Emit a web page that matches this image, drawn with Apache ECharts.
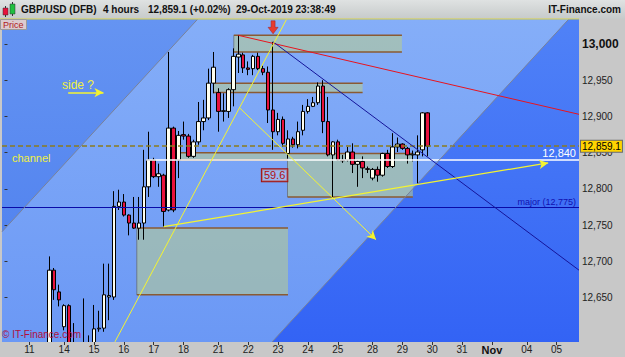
<!DOCTYPE html>
<html><head><meta charset="utf-8">
<script src="https://cdn.jsdelivr.net/npm/echarts@6/dist/echarts.min.js"></script>
<style>html,body{margin:0;padding:0;background:#c8c8c8;}#c{width:625px;height:357px;}</style>
</head><body><div id="c"></div>
<script>
// ---------------- data ----------------
const slotCount = 116;                       // 4-hour slots on the axis
const dayLabels   = ['11','14','15','16','17','18','21','22','23','24','25','28','29','30','31','Nov','04','05'];
const dayFirstSlot = [5,12,18,24,30,36,43,49,55,61,67,74,80,86,92,98,105,111];
const yTickValues = [12650,12700,12750,12800,12850,12900,12950,13000];
const yMin = 12588.9, yMax = 13034.5;

const candleOpen  = [null,null,null,null,null,null,null,null,null,
 12564,12688,12658,12610,12639,12571,12570,12575,12572,12578,12607,12608,12651,12651,12776,12782,12764,12753,12746,12753,12803,
 12840,12817,12819,12771,12884,12840,12875,12873,12845,12865,12893,12898,12946,12933,12907,12907,12937,12982,12985,12967,
 12966,12983,12966,12961,12909,12879,12896,12849,12869,12861,12881,12907,12914,12919,12942,12893,12847,12865,12840,12840,
 12851,12834,12838,12827,12815,12827,12819,12849,12831,12858,12862,12856,12847,12847,12854,12905];
const candleClose = [null,null,null,null,null,null,null,null,null,
 12688,12661,12647,12639,12578,12585,12560,12585,12582,12607,12608,12654,12653,12776,12782,12764,12753,12746,12753,12803,12840,
 12817,12821,12769,12884,12771,12874,12873,12845,12865,12893,12898,12946,12968,12907,12908,12937,12983,12986,12967,12965,
 12983,12966,12961,12909,12879,12896,12863,12869,12861,12879,12907,12914,12919,12942,12893,12847,12865,12840,12839,12851,
 12834,12838,12829,12828,12827,12819,12849,12831,12858,12862,12856,12847,12848,12851,12905,12859.1];
const candleLow   = [null,null,null,null,null,null,null,null,null,
 12550,12647,12638,12605,12564,12557,12550,12564,12560,12570,12603,12603,12619,12647,12771,12762,12736,12745,12730,12730,12789,
 12815,12803,12748,12769,12768,12815,12868,12843,12843,12861,12881,12895,12932,12879,12893,12898,12914,12960,12960,12957,
 12957,12964,12957,12891,12854,12874,12858,12842,12857,12856,12874,12904,12913,12916,12877,12845,12787,12839,12836,12838,
 12822,12803,12815,12822,12812,12810,12817,12829,12829,12851,12854,12835,12838,12807,12845,12845];
const candleHigh  = [null,null,null,null,null,null,null,null,null,
 12707,12691,12668,12641,12641,12615,12585,12649,12598,12640,12632,12697,12697,12797,12799,12793,12765,12789,12789,12854,12879,
 12843,12835,12821,12989,12886,12880,12893,12876,12868,12920,12923,12966,12989,12939,12932,12939,12994,13012,12988,12976,
 12985,12988,12970,12969,13003,12905,12900,12881,12872,12893,12916,12924,12927,12947,12950,12927,12866,12868,12847,12858,
 12863,12840,12845,12831,12829,12831,12850,12854,12877,12871,12863,12858,12853,12874,12906,12906];

// zones: [startSlot, endSlot, low, high]
const zoneStart = [46.1, 42.0, 56.9, 35.1, 26.6];
const zoneEnd   = [79.9, 72.0, 82.1, 56.9, 57.0];
const zoneLow   = [12989, 12933, 12789, 12840, 12654];
const zoneHigh  = [13012, 12946, 12849, 12850, 12746];

// trend lines: two points each [slot, price]
const channelUpper = [[-0.5, 12741], [38.8, 13034]];
const channelLower = [[53.8, 12589], [113.4, 13034]];
const redLine      = [[47, 13012], [115.5, 12903]];
const navyLine     = [[54, 13003], [115.5, 12688]];
const yellowSteep  = [[22.2, 12589], [56.7, 13034]];
const yellowDown   = [[47.25, 12912], [74.7, 12730]];
const yellowUp     = [[32, 12748], [109.3, 12836]];
const sideArrow    = [[12.8, 12933], [19.9, 12933]];
const lastPrice = 12859.1;
const channelLevel = 12840, channelLevelStart = 28.5;
const majorLevel = 12775;
const fiboValue = '59.6', fiboAt = [54.3, 12819];
const signalAt = [54, 13023];

// ---------------- helpers ----------------
const candles = candleOpen.map((o, i) => o == null ? '-' : [o, candleClose[i], candleLow[i], candleHigh[i]]);
const slots = Array.from({length: slotCount}, (_, i) => String(i));
const zones = zoneStart.map((s, i) => [s, zoneEnd[i], zoneLow[i], zoneHigh[i]]);
const fmt = v => v.toLocaleString('en-US');
function lineAt(l, s) { return l[0][1] + (l[1][1] - l[0][1]) * (s - l[0][0]) / (l[1][0] - l[0][0]); }
function clipPoly(pts, x0, x1, y0, y1) {
  const edges = [
    [p => p[0] >= x0, (a, b) => { const t = (x0 - a[0]) / (b[0] - a[0]); return [x0, a[1] + t * (b[1] - a[1])]; }],
    [p => p[0] <= x1, (a, b) => { const t = (x1 - a[0]) / (b[0] - a[0]); return [x1, a[1] + t * (b[1] - a[1])]; }],
    [p => p[1] >= y0, (a, b) => { const t = (y0 - a[1]) / (b[1] - a[1]); return [a[0] + t * (b[0] - a[0]), y0]; }],
    [p => p[1] <= y1, (a, b) => { const t = (y1 - a[1]) / (b[1] - a[1]); return [a[0] + t * (b[0] - a[0]), y1]; }]
  ];
  let out = pts;
  for (const [inside, inter] of edges) {
    const inp = out; out = [];
    for (let i = 0; i < inp.length; i++) {
      const cur = inp[i], prev = inp[(i + inp.length - 1) % inp.length];
      if (inside(cur)) { if (!inside(prev)) out.push(inter(prev, cur)); out.push(cur); }
      else if (inside(prev)) out.push(inter(prev, cur));
    }
  }
  return out;
}
const grad = (c1, c2) => new echarts.graphic.LinearGradient(0, 19, 0, 342, [{offset:0,color:c1},{offset:1,color:c2}], true);
const bandFills = [grad('#6594f2', '#4a7cee'), grad('#85aef8', '#6b98f5'), grad('#5082f7', '#3363f5')];

function seg(l, color, width, arrow) {
  return [
    {coord: l[0], symbol: 'none'},
    {coord: l[1], symbol: arrow ? 'arrow' : 'none', symbolSize: arrow ? [7, 9] : 0,
     lineStyle: {color: color, width: width || 1, type: 'solid'}}
  ];
}

const chart = echarts.init(document.getElementById('c'), null, {renderer: 'svg', width: 625, height: 357});
chart.setOption({
  animation: false,
  backgroundColor: '#c8c8c8',
  grid: {left: 2, right: 46, top: 19, bottom: 15, show: false},
  xAxis: [{
    type: 'category', data: slots, boundaryGap: true, zlevel: 1,
    axisLine: {show: false},
    axisTick: {show: true, alignWithLabel: true, length: 3, lineStyle: {color: '#333'},
      interval: (i) => dayFirstSlot.indexOf(i) >= 0},
    axisLabel: {interval: (i) => dayFirstSlot.indexOf(i) >= 0, margin: 2, fontSize: 10, color: '#222',
      fontFamily: 'Liberation Sans, Arial, sans-serif',
      formatter: (v, i) => { const k = dayFirstSlot.indexOf(Number(v)); const t = k >= 0 ? dayLabels[k] : ''; return t === 'Nov' ? '{b|Nov}' : t; },
      rich: {b: {fontWeight: 'bold', fontSize: 11, color: '#111'}}},
    splitLine: {show: false}
  }, {
    type: 'value', min: -0.5, max: slotCount - 0.5, show: false
  }],
  yAxis: {
    type: 'value', position: 'right', min: yMin, max: yMax, scale: true,
    axisLine: {show: false}, splitLine: {show: false},
    axisTick: {show: true, length: 3, customValues: yTickValues, lineStyle: {color: '#333'}},
    axisLabel: {customValues: yTickValues, margin: 3, fontSize: 10, color: '#222',
      fontFamily: 'Liberation Sans, Arial, sans-serif',
      formatter: v => v === 13000 ? '{b|13,000}' : fmt(v),
      rich: {b: {fontWeight: 'bold', fontSize: 12, color: '#111'}}}
  },
  series: [{
    type: 'custom', name: 'bands', xAxisIndex: 1, z: 0, silent: true,
    data: [[0], [1], [2]],
    renderItem: (params, api) => {
      const id = api.value(0);
      const sL = -40, sR = 160;
      let pts;
      if (id === 0) pts = [[sL, yMin - 500], [sR, yMin - 500], [sR, yMax + 500], [sL, yMax + 500]];
      else if (id === 1) pts = [[sL, lineAt(channelUpper, sL)], [sR, lineAt(channelUpper, sR)], [sR, lineAt(channelLower, sR)], [sL, lineAt(channelLower, sL)]];
      else pts = [[sL, lineAt(channelLower, sL)], [sR, lineAt(channelLower, sR)], [sR, yMin - 500], [sL, yMin - 500]];
      const c = clipPoly(pts, -0.5, slotCount - 0.5, yMin, yMax);
      return {type: 'polygon', shape: {points: c.map(p => api.coord(p))}, style: {fill: bandFills[id]}};
    }
  }, {
    type: 'custom', name: 'zones', xAxisIndex: 1, z: 1, silent: true,
    data: zones,
    renderItem: (params, api) => {
      const a = api.coord([api.value(0), api.value(3)]);
      const b = api.coord([api.value(1), api.value(2)]);
      return {type: 'group', children: [
        {type: 'rect', shape: {x: a[0], y: a[1], width: b[0] - a[0], height: b[1] - a[1]},
          style: {fill: 'rgba(185,205,140,0.55)'}},
        {type: 'line', shape: {x1: a[0], y1: a[1], x2: b[0], y2: a[1]}, style: {stroke: '#8a5a32', lineWidth: 1.5}},
        {type: 'line', shape: {x1: a[0], y1: b[1], x2: b[0], y2: b[1]}, style: {stroke: '#8a5a32', lineWidth: 1.5}},
        {type: 'line', shape: {x1: a[0], y1: a[1], x2: a[0], y2: b[1]}, style: {stroke: 'rgba(90,90,90,0.6)', lineWidth: 1}}
      ]};
    }
  }, {
    type: 'candlestick', name: 'GBP/USD', xAxisIndex: 0, z: 2, clip: true,
    barWidth: 4,
    data: candles,
    itemStyle: {color: '#fffff0', color0: '#e8123c', borderColor: '#000', borderColor0: '#000', borderWidth: 1}
  }, {
    type: 'line', name: 'annotations', xAxisIndex: 1, z: 3, data: [], silent: true,
    markLine: {
      silent: true, animation: false, symbol: 'none', precision: 1,
      label: {show: false},
      data: [
        {yAxis: lastPrice, lineStyle: {color: '#8c7c1c', type: [5, 3], width: 1.5},
          label: {show: true, position: 'end', distance: 2, formatter: '12,859.1', color: '#000', fontSize: 10,
            fontFamily: 'Liberation Sans, Arial, sans-serif',
            backgroundColor: '#ffd400', borderColor: '#6a6a6a', borderWidth: 1, padding: [1, 1, 0, 1]}},
        [{coord: [channelLevelStart, channelLevel], symbol: 'none'},
         {coord: [slotCount - 0.5, channelLevel], symbol: 'none', lineStyle: {color: '#ffffff', width: 1.5, type: 'solid'},
          label: {show: true, position: 'insideEndTop', distance: [3, 1], formatter: fmt(channelLevel), color: '#ffffff', fontSize: 11,
            fontFamily: 'Liberation Sans, Arial, sans-serif'}}],
        {yAxis: majorLevel, lineStyle: {color: '#0a0aa8', width: 1, type: 'solid'},
          label: {show: true, position: 'insideEndTop', distance: [3, 1], formatter: 'major (' + fmt(majorLevel) + ')', color: '#1010b0', fontSize: 9,
            fontFamily: 'Liberation Sans, Arial, sans-serif'}},
        seg(channelUpper, '#7a8298', 1),
        seg(channelLower, '#7a8298', 1),
        seg(redLine, '#e8141e', 1),
        seg(navyLine, '#15159a', 1),
        seg(yellowSteep, '#f4f430', 1),
        seg(yellowDown, '#f4f430', 1, true),
        seg(yellowUp, '#f4f430', 1.2, true),
        seg(sideArrow, '#f4f430', 1.5, true)
      ]
    },
    markPoint: {
      silent: true, animation: false,
      data: [
        {coord: signalAt, symbol: 'path://M3,0 L7,0 L7,6 L10,6 L5,12 L0,6 L3,6 Z', symbolSize: [10, 13],
          itemStyle: {color: '#e83a30', borderColor: '#a02020', borderWidth: 0.5}, label: {show: false}},
        {coord: fiboAt, symbol: 'rect', symbolSize: 1, itemStyle: {color: 'rgba(0,0,0,0)'},
          label: {show: true, position: 'inside', formatter: fiboValue, color: '#b01010', fontSize: 11,
            fontFamily: 'Liberation Sans, Arial, sans-serif',
            backgroundColor: 'rgba(185,200,230,0.55)', borderColor: '#a01010', borderWidth: 1, padding: [1, 2, 0, 2]}}
      ]
    }
  }],
  graphic: [
    {type: 'rect', z: 100, shape: {x: 0, y: 342, width: 579, height: 15}, style: {fill: '#c8c8c8'}},
    {type: 'rect', z: 100, shape: {x: 0, y: 0, width: 625, height: 19},
      style: {fill: new echarts.graphic.LinearGradient(0, 0, 0, 1, [{offset: 0, color: '#dfe2e2'}, {offset: 1, color: '#c6caca'}])}},
    {type: 'line', z: 101, shape: {x1: 0, y1: 19, x2: 579, y2: 19}, style: {stroke: '#d8d048', lineWidth: 1}},
    {type: 'line', z: 101, shape: {x1: 5.5, y1: 6, x2: 5.5, y2: 17}, style: {stroke: '#333', lineWidth: 1}},
    {type: 'rect', z: 102, shape: {x: 3, y: 8, width: 5, height: 7}, style: {fill: '#e8123c', stroke: '#333', lineWidth: 0.5}},
    {type: 'line', z: 101, shape: {x1: 12.5, y1: 2, x2: 12.5, y2: 16}, style: {stroke: '#333', lineWidth: 1}},
    {type: 'rect', z: 102, shape: {x: 10, y: 4, width: 5, height: 10}, style: {fill: '#20c040', stroke: '#333', lineWidth: 0.5}},
    {type: 'text', z: 102, x: 21, y: 9.5, style: {text: 'GBP/USD (DFB)', fill: '#111', font: 'bold 10px Liberation Sans, Arial, sans-serif', verticalAlign: 'middle'}},
    {type: 'text', z: 102, x: 103, y: 9.5, style: {text: '4 hours', fill: '#111', font: 'bold 10px Liberation Sans, Arial, sans-serif', verticalAlign: 'middle'}},
    {type: 'text', z: 102, x: 148, y: 9.5, style: {text: '12,859.1 (+0.02%)', fill: '#111', font: 'bold 10px Liberation Sans, Arial, sans-serif', verticalAlign: 'middle'}},
    {type: 'text', z: 102, x: 236, y: 9.5, style: {text: '29-Oct-2019 23:38:49', fill: '#111', font: 'bold 10px Liberation Sans, Arial, sans-serif', verticalAlign: 'middle'}},
    {type: 'text', z: 102, x: 621, y: 9.5, style: {text: 'IT-Finance.com', fill: '#111', font: 'bold 10px Liberation Sans, Arial, sans-serif', align: 'right', verticalAlign: 'middle'}},
    {type: 'rect', z: 102, shape: {x: 0.5, y: 19.5, width: 26, height: 10}, style: {fill: '#dccbcf', stroke: '#9a9a9a', lineWidth: 1}},
    {type: 'text', z: 103, x: 3, y: 25, style: {text: 'Price', fill: '#b02020', font: '9px Liberation Sans, Arial, sans-serif', verticalAlign: 'middle'}},
    {type: 'text', z: 103, x: 12, y: 157.5, style: {text: 'channel', fill: '#f0f040', font: '11px Liberation Sans, Arial, sans-serif', verticalAlign: 'middle'}},
    {type: 'text', z: 103, x: 62, y: 85, style: {text: 'side ?', fill: '#f0f040', font: '12px Liberation Sans, Arial, sans-serif', verticalAlign: 'middle'}},
    {type: 'text', z: 103, x: 2, y: 334, style: {text: '© IT-Finance.com', fill: '#b0103c', font: '10px Liberation Sans, Arial, sans-serif', verticalAlign: 'middle'}}
  ]
});
</script></body></html>
